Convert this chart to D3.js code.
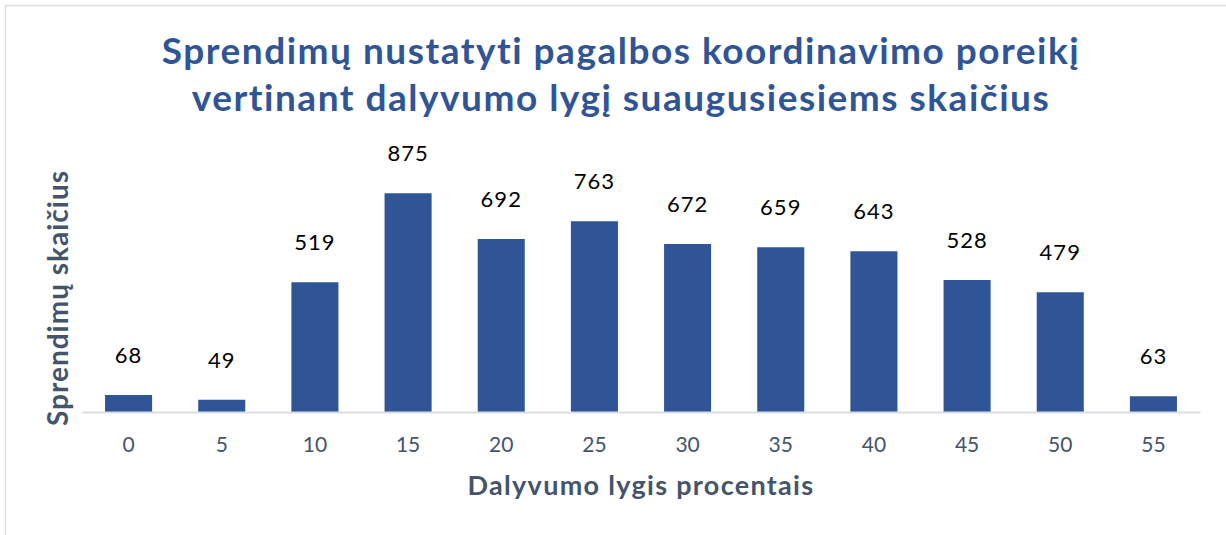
<!DOCTYPE html>
<html>
  <head>
    <meta charset="utf-8">
    <title>Sprendimų skaičius</title>
    <script src="https://d3js.org/d3.v7.min.js"></script>
    <style>
      body { margin: 0; background: #fff; }
      text { font-family: Lato, "Open Sans", sans-serif; }
    </style>
  </head>
  <body>
  <script type="text/javascript">
    // data
    var levels = ["0", "5", "10", "15", "20", "25", "30", "35", "40", "45", "50", "55"];
    var counts = [68, 49, 519, 875, 692, 763, 672, 659, 643, 528, 479, 63];
    var titleLines = ["Sprendimų nustatyti pagalbos koordinavimo poreikį",
                      "vertinant dalyvumo lygį suaugusiesiems skaičius"];

    var W = 1226, H = 535;
    var svg = d3.select("body").append("svg")
      .attr("width", W).attr("height", H);

    // chart frame
    svg.append("rect")
      .attr("x", 5.5).attr("y", 5.5)
      .attr("width", W + 10).attr("height", H + 10)
      .attr("fill", "none")
      .attr("stroke", "#d9dde4")
      .attr("stroke-width", 1.5);

    var plot = { left: 82, right: 1200, top: 162, bottom: 412 };

    var x = d3.scaleBand()
      .domain(levels)
      .range([plot.left, plot.right])
      .paddingInner(0.495)
      .paddingOuter(0.2475);

    var y = d3.scaleLinear()
      .domain([0, 1000])
      .range([plot.bottom, plot.top]);

    // title
    svg.append("text")
      .attr("x", 621)
      .attr("text-anchor", "middle")
      .attr("fill", "#2f5597")
      .style("font-weight", "bold")
      .style("font-size", "37px")
      .style("letter-spacing", "1.5px")
      .selectAll("tspan")
      .data(titleLines)
      .enter().append("tspan")
        .attr("x", 621)
        .attr("y", function(d, i){ return 64 + i * 47; })
        .text(function(d){ return d; });

    // bars
    svg.append("g").selectAll("rect")
      .data(counts)
      .enter().append("rect")
        .attr("x", function(d, i){ return x(levels[i]); })
        .attr("y", function(d){ return y(d); })
        .attr("width", x.bandwidth())
        .attr("height", function(d){ return y(0) - y(d); })
        .attr("fill", "#2f5597");

    // data labels
    svg.append("g").selectAll("text")
      .data(counts)
      .enter().append("text")
        .attr("x", function(d, i){ return x(levels[i]) + x.bandwidth() / 2; })
        .attr("y", function(d){ return y(d) - 32; })
        .attr("text-anchor", "middle")
        .attr("fill", "#000")
        .style("font-size", "22px")
        .style("letter-spacing", "1px")
        .text(function(d){ return d; });

    // x axis
    var xAxis = svg.append("g")
      .attr("transform", "translate(0," + plot.bottom + ")")
      .call(d3.axisBottom(x).tickSize(0).tickPadding(25));
    xAxis.select(".domain").attr("stroke", "#d9dde4").attr("stroke-width", 2);
    xAxis.selectAll("text")
      .attr("fill", "#44546a")
      .style("font-family", "Lato, sans-serif")
      .style("font-size", "21px");

    // axis titles
    svg.append("text")
      .attr("x", 641).attr("y", 495)
      .attr("text-anchor", "middle")
      .attr("fill", "#44546a")
      .style("font-weight", "bold")
      .style("font-size", "27px")
      .style("letter-spacing", "1.3px")
      .text("Dalyvumo lygis procentais");

    svg.append("text")
      .attr("transform", "translate(68,298) rotate(-90)")
      .attr("text-anchor", "middle")
      .attr("fill", "#44546a")
      .style("font-weight", "bold")
      .style("font-size", "28px")
      .style("letter-spacing", "1px")
      .text("Sprendimų skaičius");
  </script>
  </body>
</html>
